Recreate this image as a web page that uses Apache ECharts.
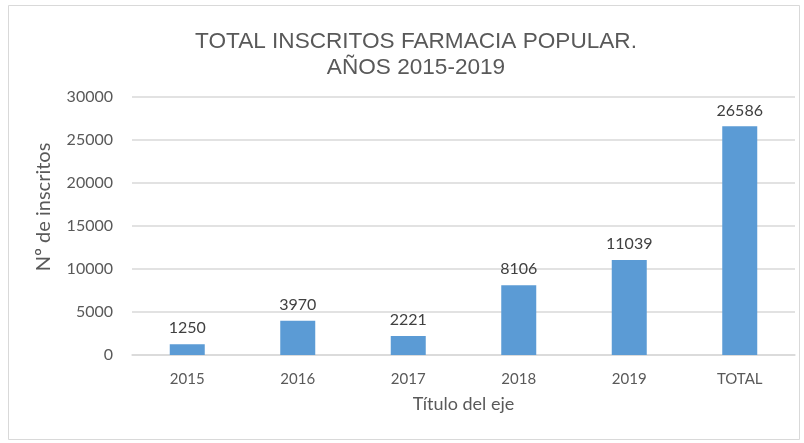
<!DOCTYPE html>
<html><head><meta charset="utf-8">
<script src="https://cdn.jsdelivr.net/npm/echarts@6/dist/echarts.min.js"></script>
<style>html,body{margin:0;padding:0;background:#fff;}#c{width:804px;height:443px;}</style>
</head><body><div id="c"></div>
<script>
var categories = ['2015','2016','2017','2018','2019','TOTAL'];
var inscritos = [1250, 3970, 2221, 8106, 11039, 26586];
var yTicks = [0, 5000, 10000, 15000, 20000, 25000, 30000];
var titleLines = ['TOTAL INSCRITOS FARMACIA POPULAR.', 'AÑOS 2015-2019'];

var chart = echarts.init(document.getElementById('c'), null, {renderer:'canvas'});
chart.setOption({
  animation: false,
  backgroundColor: '#fff',
  graphic: [{type:'rect', shape:{x:8.5,y:5.5,width:791,height:434}, style:{fill:'none', stroke:'#d9d9d9', lineWidth:1}, z:-1}],
  title: {
    text: titleLines.join('\n'), left: 411, top: 24, textAlign: 'center',
    textStyle: {fontFamily:'Liberation Sans', fontWeight:'normal', fontSize:22.6, color:'#595959', lineHeight:26}
  },
  grid: {left:132, right:9, top:97, bottom:88},
  xAxis: {
    type:'category', data: categories,
    name:'Título del eje', nameLocation:'middle', nameGap:40,
    nameTextStyle:{fontFamily:'Lato', fontSize:18, color:'#595959'},
    axisLine:{lineStyle:{color:'#d9d9d9', width:1.5}},
    axisTick:{show:false},
    axisLabel:{fontFamily:'Lato', fontSize:15, color:'#595959', margin:17}
  },
  yAxis: {
    type:'value', min: yTicks[0], max: yTicks[yTicks.length-1], interval: 5000,
    name:'Nº de inscritos', nameLocation:'middle', nameGap:78,
    nameTextStyle:{fontFamily:'Lato', fontSize:20, color:'#595959', padding:[0,0,0,38]},
    axisLine:{show:false}, axisTick:{show:false},
    axisLabel:{fontFamily:'Lato', fontSize:16, color:'#595959', margin:19, formatter:function(v){return String(v);}},
    splitLine:{lineStyle:{color:'#d9d9d9', width:1.5}}
  },
  series: [{
    type:'bar', data: inscritos, barWidth:35,
    itemStyle:{color:'#5b9bd5'},
    label:{show:true, position:'top', distance:8, fontFamily:'Lato', fontSize:16, color:'#404040'}
  }]
});
</script></body></html>
